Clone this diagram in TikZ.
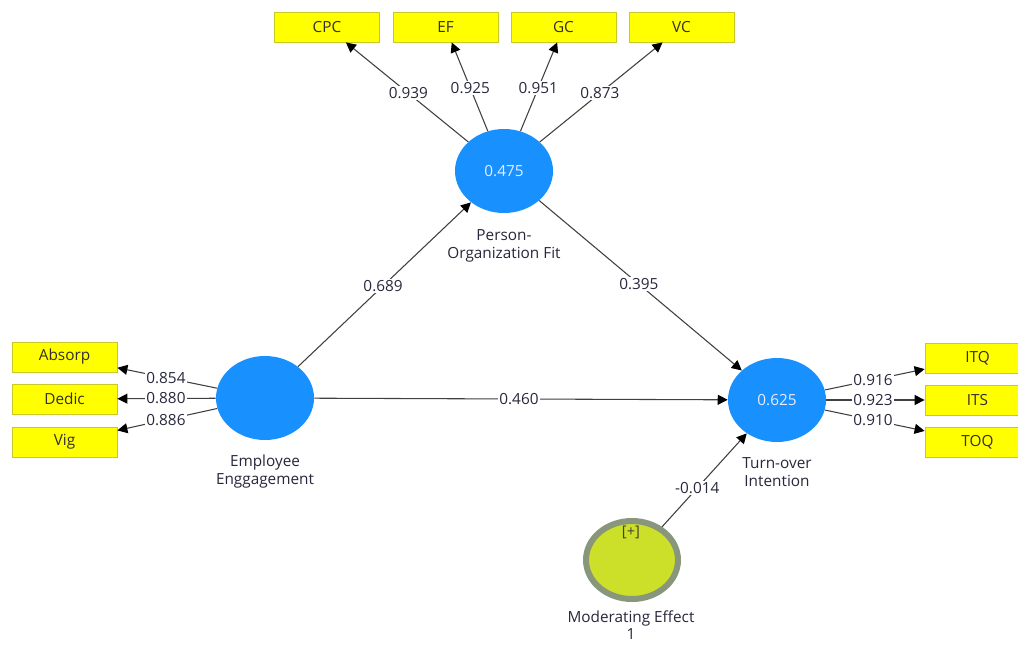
\documentclass[tikz,border=0pt]{standalone}
\usepackage{fontspec}
\setmainfont{Open Sans}
\usetikzlibrary{shapes.geometric,arrows.meta,calc}
\definecolor{lvblue}{RGB}{24,145,255}
\definecolor{indyellow}{RGB}{255,255,0}
\definecolor{indborder}{RGB}{200,200,40}
\definecolor{modfill}{RGB}{204,224,42}
\definecolor{modring}{RGB}{136,150,124}
\definecolor{linegray}{RGB}{64,64,64}
\definecolor{txt}{RGB}{40,40,60}
\tikzset{
  latent/.style={ellipse, fill=lvblue, draw=none, minimum width=98*0.75pt, minimum height=84*0.75pt, inner sep=0pt, text=white!92!blue, font=\fontsize{11.5}{13}\selectfont},
  modvar/.style={ellipse, fill=modfill, draw=modring, line width=6*0.75pt, minimum width=92*0.75pt, minimum height=78*0.75pt, inner sep=0pt},
  indbox/.style={rectangle, fill=indyellow, draw=indborder, line width=0.6pt, minimum width=105*0.75pt, minimum height=30*0.75pt, inner sep=0pt, text=black!85!olive, font=\fontsize{11.5}{13}\selectfont},
  arr/.style={draw=linegray, line width=0.8pt, -{Triangle[length=7.5pt,width=7.5pt,color=black]}},
  coef/.style={fill=white, inner sep=1pt, text=txt, font=\fontsize{11.5}{13}\selectfont},
  lvlabel/.style={align=center, text=txt, font=\fontsize{11.5}{13.5}\selectfont, inner sep=0pt}
}
\begin{document}
\begin{tikzpicture}[x=0.75pt,y=-0.75pt]
\path[use as bounding box, clip] (0,0) rectangle (1018,646);
\fill[white] (0,0) rectangle (1018,646);
% latent variables
\node[latent] (pof) at (504,171) {0.475};
\node[latent] (ee) at (265,398) {};
\node[latent] (toi) at (777,400) {0.625};
\node[modvar] (mod) at (632,560) {};
\node[font=\fontsize{11}{12}\selectfont, text=txt!70!olive, inner sep=0pt] (modtag) at (631,532) {[+]};
% labels
\node[lvlabel] (pofl) at (504,246) {Person-\\Organization Fit};
\node[lvlabel] (eel) at (265,472) {Employee\\Enggagement};
\node[lvlabel] (toil) at (777,472) {Turn-over\\Intention};
\node[lvlabel, font=\fontsize{11.5}{12.5}\selectfont] (modl) at (631,625) {Moderating Effect\\1};
% indicators
\node[indbox] (cpc) at (327,27) {CPC};
\node[indbox] (ef) at (445.5,27) {EF};
\node[indbox] (gc) at (563.5,27) {GC};
\node[indbox] (vc) at (681.5,27) {VC};
\node[indbox] (abs) at (64.5,357) {Absorp};
\node[indbox] (ded) at (64.5,399) {Dedic};
\node[indbox] (vig) at (64.5,442) {Vig};
\node[indbox] (itq) at (977.5,358) {ITQ};
\node[indbox] (its) at (977.5,400) {ITS};
\node[indbox] (toq) at (977.5,442) {TOQ};
% outer loadings
\draw[arr] (pof) -- (cpc);
\draw[arr] (pof) -- (ef);
\draw[arr] (pof) -- (gc);
\draw[arr] (pof) -- (vc);
\node[coef] (l1) at ($(pof)!0.54!(cpc)$) {0.939};
\node[coef] (l2) at ($(pof)!0.576!(ef)$) {0.925};
\node[coef] (l3) at ($(pof)!0.576!(gc)$) {0.951};
\node[coef] (l4) at ($(pof)!0.54!(vc)$) {0.873};
\draw[arr] (ee) -- (abs);
\draw[arr] (ee) -- (ded);
\draw[arr] (ee) -- (vig);
\node[coef] (l5) at ($(ee)!0.494!(abs)$) {0.854};
\node[coef] (l6) at ($(ee)!0.494!(ded)$) {0.880};
\node[coef] (l7) at ($(ee)!0.494!(vig)$) {0.886};
\draw[arr] (toi) -- (itq);
\draw[arr] (toi) -- (its);
\draw[arr] (toi) -- (toq);
\node[coef] (l8) at ($(toi)!0.479!(itq)$) {0.916};
\node[coef] (l9) at ($(toi)!0.479!(its)$) {0.923};
\node[coef] (l10) at ($(toi)!0.479!(toq)$) {0.910};
% structural paths
\draw[arr] (ee) -- (pof);
\draw[arr] (pof) -- (toi);
\draw[arr] (ee) -- (toi);
\draw[arr] (mod) -- (toi);
\node[coef] (p1) at ($(ee)!0.494!(pof)$) {0.689};
\node[coef] (p2) at ($(pof)!0.494!(toi)$) {0.395};
\node[coef] (p3) at ($(ee)!0.496!(toi)$) {0.460};
\node[coef] (p4) at ($(mod)!0.45!(toi)$) {-0.014};
\end{tikzpicture}
\end{document}
